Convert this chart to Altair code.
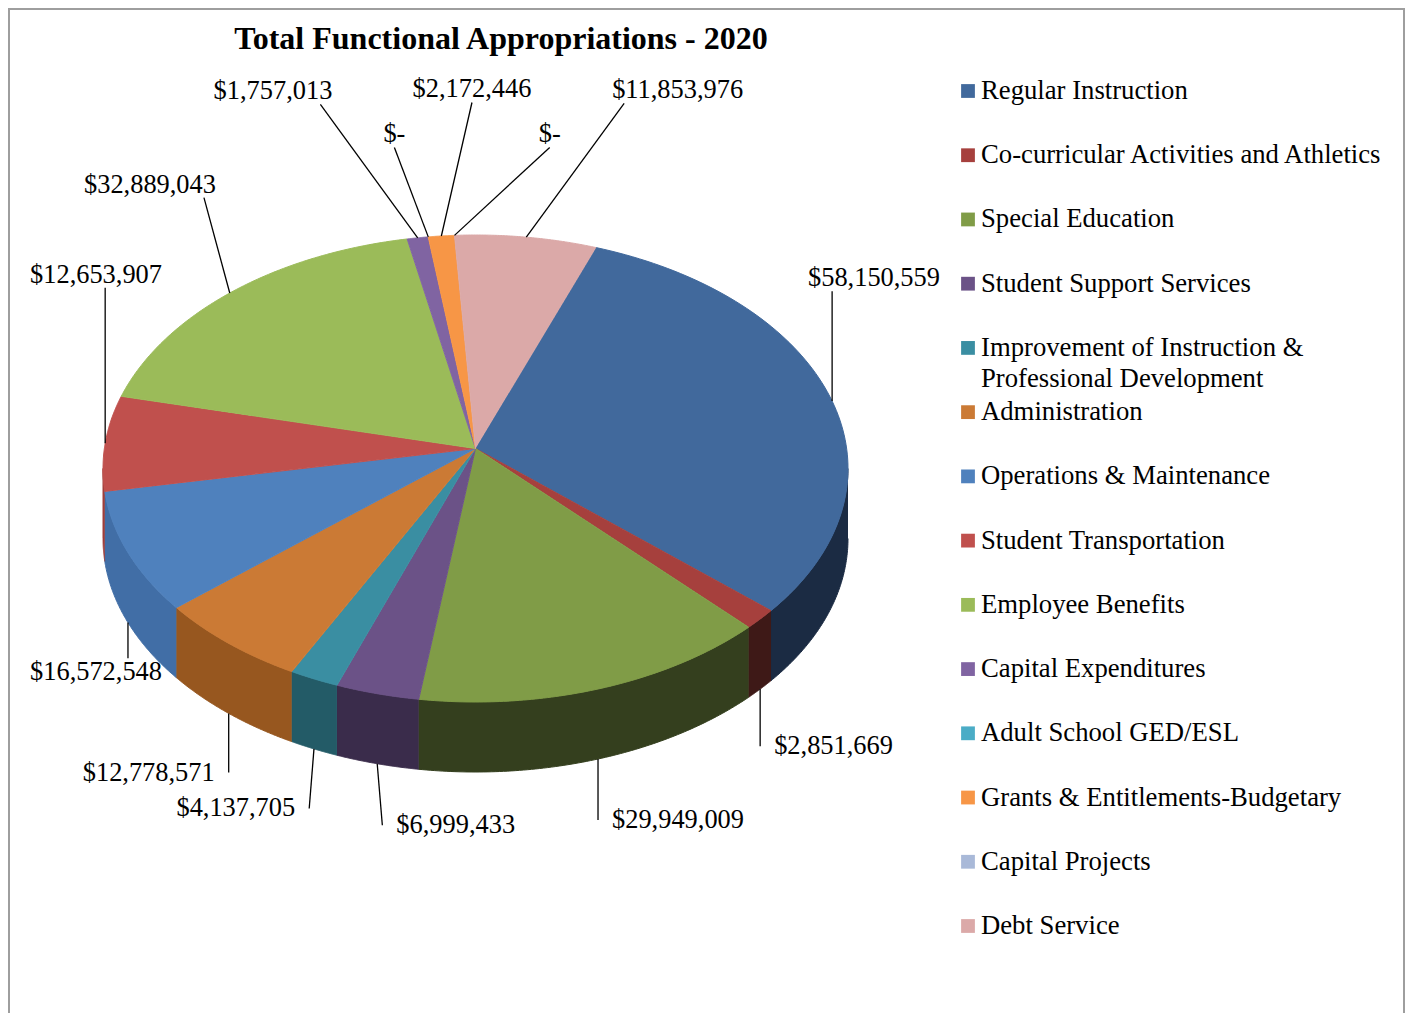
import altair as alt
import pandas as pd

TITLE = "Total Functional Appropriations - 2020"

categories = [
    "Regular Instruction",
    "Co-curricular Activities and Athletics",
    "Special Education",
    "Student Support Services",
    "Improvement of Instruction & Professional Development",
    "Administration",
    "Operations & Maintenance",
    "Student Transportation",
    "Employee Benefits",
    "Capital Expenditures",
    "Adult School GED/ESL",
    "Grants & Entitlements-Budgetary",
    "Capital Projects",
    "Debt Service",
]
amounts = [58150559, 2851669, 29949009, 6999433, 4137705, 12778571, 16572548,
           12653907, 32889043, 1757013, 0, 2172446, 0, 11853976]
value_labels = ["$58,150,559", "$2,851,669", "$29,949,009", "$6,999,433", "$4,137,705",
                "$12,778,571", "$16,572,548", "$12,653,907", "$32,889,043", "$1,757,013",
                "$-", "$2,172,446", "$-", "$11,853,976"]
legend_text = [
    "Regular Instruction",
    "Co-curricular Activities and Athletics",
    "Special Education",
    "Student Support Services",
    "Improvement of Instruction &\nProfessional Development",
    "Administration",
    "Operations & Maintenance",
    "Student Transportation",
    "Employee Benefits",
    "Capital Expenditures",
    "Adult School GED/ESL",
    "Grants & Entitlements-Budgetary",
    "Capital Projects",
    "Debt Service",
]

# styles
top_colors = ["#41699C", "#A6403D", "#809C47", "#6B5287", "#3A8EA2", "#CB7A35", "#4F81BD",
              "#C0504D", "#9BBB59", "#8064A2", "#4BACC6", "#F79646", "#A9B9D8", "#DBA9A8"]
side_colors = ["#1B2B43", "#3E1917", "#343F1E", "#3A2C4B", "#235B67", "#97571F", "#416EA6",
               "#9E3E3B", "#7A9444", "#624D80", "#3A889D", "#C57432", "#8796B0", "#AF8685"]

# layout (pixels, view coordinates)
W, H = 1397, 1005
CX, CY = 467.5, 460.5       # centre of top ellipse
A, B = 372.5, 233.5         # ellipse semi-axes
DEPTH_PX = 70
APEX_PX = 20
N = 90
START = 0.33                # first slice starts ~19 degrees clockwise from top
SEP = 0.21                  # minimum angular label separation (~12 degrees)

XMIN, XMAX = -CX / A, (W - CX) / A
YMAX, YMIN = CY / B, -(H - CY) / B
D = DEPTH_PX / B
APEX = APEX_PX / B
RMIN = (162 - 8 - CX) / A
LMAX = (808 - 8 - CX) / A

df = pd.DataFrame({
    "cat": categories,
    "amt": amounts,
    "idx": list(range(len(categories))),
    "lab": value_labels,
    "leg": legend_text,
})

xscale = alt.Scale(domain=[XMIN, XMAX], nice=False, zero=False)
yscale = alt.Scale(domain=[YMIN, YMAX], nice=False, zero=False)
top_scale = alt.Scale(domain=categories, range=top_colors)
side_scale = alt.Scale(domain=categories, range=side_colors)

base = alt.Chart(df).transform_joinaggregate(
    total="sum(amt)"
).transform_window(
    cum="sum(amt)", sort=[alt.SortField("idx", order="ascending")], frame=[None, 0]
).transform_calculate(
    a0=f"{START} + 2*PI*(datum.cum - datum.amt)/datum.total",
    a1=f"{START} + 2*PI*datum.cum/datum.total",
)

# 3D side walls (front half only)
sides = base.transform_calculate(
    s0="max(datum.a0, PI/2)",
    s1="min(datum.a1, 3*PI/2)",
).transform_filter(
    "datum.s1 > datum.s0 && datum.amt > 0"
).transform_calculate(
    pts=f"sequence(0, {2 * N + 2})"
).transform_flatten(["pts"]).transform_calculate(
    ang=f"datum.pts <= {N} ? datum.s0 + (datum.s1 - datum.s0)*datum.pts/{N} : datum.s1 - (datum.s1 - datum.s0)*(datum.pts - {N + 1})/{N}",
    px="sin(datum.ang)",
    py=f"datum.pts <= {N} ? cos(datum.ang) : cos(datum.ang) - {D}",
).mark_line(strokeWidth=1, strokeJoin="round").encode(
    x=alt.X("px:Q", scale=xscale, axis=None),
    y=alt.Y("py:Q", scale=yscale, axis=None),
    order=alt.Order("pts:Q"),
    detail="cat:N",
    fill=alt.Fill("cat:N", scale=side_scale, legend=None),
    stroke=alt.Stroke("cat:N", scale=side_scale, legend=None),
)

# top faces
top = base.transform_filter("datum.amt > 0").transform_calculate(
    pts=f"sequence(0, {N + 2})"
).transform_flatten(["pts"]).transform_calculate(
    ang=f"datum.a0 + (datum.a1 - datum.a0)*(datum.pts - 1)/{N}",
    px="datum.pts == 0 ? 0 : sin(datum.ang)",
    py=f"datum.pts == 0 ? {APEX} : cos(datum.ang)",
).mark_line(strokeWidth=1, strokeJoin="round").encode(
    x=alt.X("px:Q", scale=xscale, axis=None),
    y=alt.Y("py:Q", scale=yscale, axis=None),
    order=alt.Order("pts:Q"),
    detail="cat:N",
    fill=alt.Fill("cat:N", scale=top_scale, legend=None),
    stroke=alt.Stroke("cat:N", scale=top_scale, legend=None),
)

# label placement: spread label angles (forward + backward push, averaged)
lab_base = base.transform_calculate(
    mid="(datum.a0 + datum.a1)/2",
).transform_calculate(
    v=f"datum.mid - datum.idx*{SEP}",
).transform_window(
    M="max(v)", sort=[alt.SortField("idx", order="ascending")], frame=[None, 0]
).transform_window(
    mb="min(v)", sort=[alt.SortField("idx", order="ascending")], frame=[0, None]
).transform_calculate(
    la=f"(datum.M + datum.mb)/2 + datum.idx*{SEP}",
).transform_calculate(
    s="sin(datum.la)",
    c="cos(datum.la)",
).transform_calculate(
    yE=f"-{D}/2 + datum.c*(1 + {D}/2)",
    al="datum.c < 0 ? (datum.s < -0.3 ? 'right' : 'left') : (datum.s > 0.3 ? 'left' : (datum.s < -0.3 ? 'right' : 'center'))",
).transform_calculate(
    ly=f"datum.c >= 0 ? datum.yE + (95 + 55*abs(datum.s) + (datum.idx % 2 == 1 ? 50 : 0))/{B} : datum.yE - (58 + 15*abs(datum.s))/{B}",
    lxr=f"datum.c < 0 ? (datum.al == 'left' ? datum.s + 14/{A} : datum.s - 14/{A}) : (datum.al == 'left' ? datum.s - 12/{A} : (datum.al == 'right' ? datum.s + 12/{A} : datum.s))",
).transform_calculate(
    lx=f"datum.al == 'left' ? min(datum.lxr, {LMAX}) : (datum.al == 'right' ? max(datum.lxr, {RMIN}) : datum.lxr)",
).transform_calculate(
    ex="sin(datum.mid)",
    ey=f"cos(datum.mid) >= 0 ? cos(datum.mid) : cos(datum.mid) - {D}",
    lex="datum.s",
    ley=f"datum.c >= 0 ? datum.ly - 13/{B} : (datum.lx != datum.lxr ? datum.ly + 14/{B} : datum.ly)",
)

leaders = lab_base.mark_rule(color="black", strokeWidth=1.3).encode(
    x=alt.X("ex:Q", scale=xscale, axis=None),
    y=alt.Y("ey:Q", scale=yscale, axis=None),
    x2="lex:Q",
    y2="ley:Q",
)

def label_layer(align):
    return lab_base.transform_filter(f"datum.al == '{align}'").mark_text(
        align=align, baseline="middle", font="Liberation Serif", fontSize=26.4, color="black"
    ).encode(
        x=alt.X("lx:Q", scale=xscale, axis=None),
        y=alt.Y("ly:Q", scale=yscale, axis=None),
        text="lab:N",
    )

labels_left = label_layer("left")
labels_right = label_layer("right")
labels_center = label_layer("center")

one = pd.DataFrame({"k": [0]})

title = alt.Chart(one).mark_text(
    text=TITLE, font="Liberation Serif", fontSize=32, fontWeight="bold",
    align="center", baseline="alphabetic", color="black",
).encode(x=alt.value(493), y=alt.value(40.5))

leg_y = alt.Y("idx:Q", scale=alt.Scale(domain=[0, 13], range=[83, 918], nice=False, zero=False), axis=None)
legend_sq = alt.Chart(df).mark_square(size=190, opacity=1, filled=True, strokeWidth=0).encode(
    x=alt.value(960),
    y=leg_y,
    fill=alt.Fill("cat:N", scale=top_scale, legend=None),
)
legend_txt = alt.Chart(df).mark_text(
    align="left", baseline="alphabetic", dy=8, font="Liberation Serif", fontSize=26.7,
    lineBreak="\n", lineHeight=31, color="black",
).encode(x=alt.value(973), y=leg_y, text="leg:N")

border_color = "#9E9E9E"
border_left = alt.Chart(one).mark_rule(color=border_color, strokeWidth=2).encode(
    x=alt.value(1), y=alt.value(0), y2=alt.value(H))
border_top = alt.Chart(one).mark_rule(color=border_color, strokeWidth=2).encode(
    x=alt.value(0), x2=alt.value(W), y=alt.value(1))
border_right = alt.Chart(one).mark_rule(color=border_color, strokeWidth=2).encode(
    x=alt.value(W - 1), y=alt.value(0), y2=alt.value(H))

chart = alt.layer(
    sides, top, leaders, labels_left, labels_right, labels_center,
    title, legend_sq, legend_txt, border_left, border_top, border_right,
).resolve_scale(
    y="independent", fill="independent", stroke="independent"
).properties(
    width=W, height=H, padding=0, autosize=alt.AutoSizeParams(type="none"),
    background="white",
).configure_view(stroke=None)

chart.save("out.html", embed_options={"renderer": "svg", "actions": False})
